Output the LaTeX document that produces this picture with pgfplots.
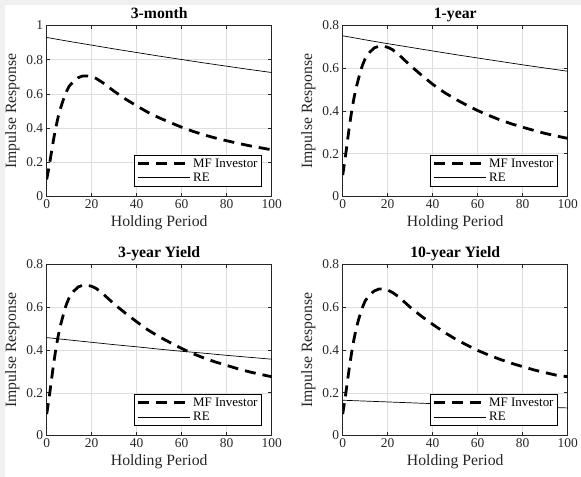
\documentclass[border=0pt]{standalone}
\usepackage{pgfplots}
\pgfplotsset{compat=1.18}
\usepackage{pgfplotstable}
\usepackage{fontspec}
\setmainfont{Liberation Serif}

\pgfplotstableread{
x    m3    y1    y3    y10
0   0.100 0.100 0.100 0.100
1   0.170 0.170 0.170 0.168
2   0.250 0.250 0.250 0.245
3   0.330 0.330 0.330 0.322
4   0.400 0.400 0.400 0.390
5   0.460 0.460 0.460 0.450
6   0.510 0.510 0.510 0.500
7   0.550 0.550 0.550 0.540
8   0.590 0.590 0.590 0.576
9   0.620 0.620 0.620 0.605
10  0.645 0.645 0.645 0.630
12  0.675 0.675 0.675 0.658
14  0.695 0.695 0.695 0.676
16  0.705 0.703 0.703 0.685
18  0.705 0.703 0.703 0.686
20  0.700 0.698 0.698 0.680
22  0.690 0.688 0.688 0.670
25  0.665 0.663 0.663 0.648
30  0.615 0.613 0.615 0.600
35  0.570 0.568 0.572 0.558
40  0.530 0.525 0.532 0.520
45  0.492 0.488 0.494 0.484
50  0.460 0.456 0.462 0.452
55  0.432 0.428 0.434 0.424
60  0.405 0.402 0.407 0.398
65  0.381 0.379 0.383 0.376
70  0.360 0.358 0.362 0.356
75  0.342 0.340 0.344 0.338
80  0.326 0.324 0.328 0.322
85  0.311 0.309 0.312 0.307
90  0.297 0.295 0.298 0.294
95  0.285 0.283 0.286 0.282
100 0.273 0.272 0.275 0.275
}\mfdata

\pgfplotstableread{
x    m3    y1    y3    y10
0   0.930 0.752 0.458 0.165
10  0.907 0.733 0.447 0.161
20  0.885 0.715 0.436 0.157
30  0.863 0.698 0.425 0.153
40  0.842 0.681 0.415 0.149
50  0.821 0.664 0.404 0.146
60  0.801 0.648 0.394 0.142
70  0.781 0.632 0.385 0.139
80  0.762 0.616 0.375 0.135
90  0.743 0.601 0.366 0.132
100 0.725 0.586 0.357 0.129
}\redata

\definecolor{axgray}{gray}{0.15}
\definecolor{gridgray}{gray}{0.87}
\definecolor{edgegray}{gray}{0.94}

\pgfplotsset{
  legend image code/.code={\draw[#1] (0bp,0bp) -- (52bp,0bp);},
  panel/.style={
    scale only axis, width=225bp, height=171bp,
    anchor=south west,
    xmin=0, xmax=100, ymin=0,
    xtick={0,20,40,60,80,100},
    grid=major, grid style={gridgray, line width=0.5bp},
    axis line style={axgray, line width=0.6bp},
    tick style={axgray, line width=0.6bp},
    tick align=inside, major tick length=3.5bp,
    tick label style={font=\fontsize{13.5}{15}\selectfont, text=axgray},
    /pgf/number format/assume math mode=true,
    /pgf/number format/fixed,
    xlabel={Holding Period}, ylabel={Impulse Response},
    label style={font=\fontsize{15.8}{18}\selectfont, text=axgray},
    title style={font=\bfseries\fontsize{15.8}{18}\selectfont,
      anchor=base, yshift=1bp},
    legend style={at={(0.956,0.058)}, anchor=south east,
      font=\fontsize{13}{15.5}\selectfont, draw=black, line width=0.5bp,
      inner xsep=2bp, inner ysep=1.5bp},
    legend cell align=left,
  },
  mf/.style={black, line width=2.8bp, dash pattern=on 11bp off 7bp},
  rel/.style={black, line width=0.7bp},
}

\begin{document}
\begin{tikzpicture}
\useasboundingbox (0,0) rectangle (581bp,477bp);
\fill[edgegray] (0,0) rectangle (5bp,477bp);
\fill[edgegray] (0,472bp) rectangle (581bp,477bp);

\begin{axis}[panel, at={(46.7bp,280.5bp)}, ymax=1, ytick={0,0.2,0.4,0.6,0.8,1}, title={3-month}]
\addplot[mf] table[x=x,y=m3]{\mfdata};
\addlegendentry{MF Investor}
\addplot[rel] table[x=x,y=m3]{\redata};
\addlegendentry{RE}
\end{axis}

\begin{axis}[panel, at={(342.7bp,280.5bp)}, ymax=0.8, ytick={0,0.2,0.4,0.6,0.8}, title={1-year}]
\addplot[mf] table[x=x,y=y1]{\mfdata};
\addlegendentry{MF Investor}
\addplot[rel] table[x=x,y=y1]{\redata};
\addlegendentry{RE}
\end{axis}

\begin{axis}[panel, at={(46.7bp,41.5bp)}, ymax=0.8, ytick={0,0.2,0.4,0.6,0.8}, title={3-year Yield}]
\addplot[mf] table[x=x,y=y3]{\mfdata};
\addlegendentry{MF Investor}
\addplot[rel] table[x=x,y=y3]{\redata};
\addlegendentry{RE}
\end{axis}

\begin{axis}[panel, at={(342.7bp,41.5bp)}, ymax=0.8, ytick={0,0.2,0.4,0.6,0.8}, title={10-year Yield}]
\addplot[mf] table[x=x,y=y10]{\mfdata};
\addlegendentry{MF Investor}
\addplot[rel] table[x=x,y=y10]{\redata};
\addlegendentry{RE}
\end{axis}
\end{tikzpicture}
\end{document}
